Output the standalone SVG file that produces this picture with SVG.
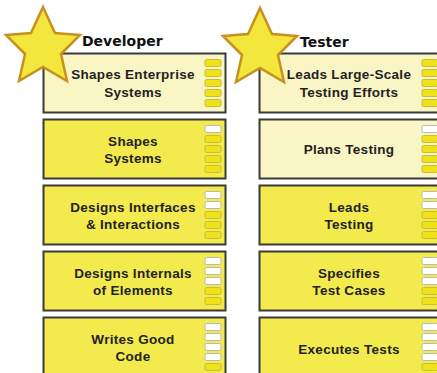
<svg xmlns="http://www.w3.org/2000/svg" width="437" height="373" viewBox="0 0 437 373">
<defs>
<style>
.box{stroke:#3a3a3a;stroke-width:2}
.hi{fill:#f3eb4e}
.lo{fill:#faf5c4}
.t{font-family:"Liberation Sans",Arial,sans-serif;font-weight:bold;font-size:13.5px;fill:#222;text-anchor:middle;letter-spacing:0.3px}
.h{font-family:"DejaVu Sans",sans-serif;font-weight:bold;font-size:14px;fill:#111}
.by{fill:#f0e21a;stroke:#c9bd3a;stroke-width:1}
.bw{fill:#ffffff;stroke:#b8b8b8;stroke-width:1}
.star{fill:#f3e63c;stroke:#c8901e;stroke-width:2.5;stroke-linejoin:miter}
</style>
<g id="bars0"><rect class="by" x="0" y="0" width="16" height="7" rx="1.5"/><rect class="by" x="0" y="10" width="16" height="7" rx="1.5"/><rect class="by" x="0" y="20" width="16" height="7" rx="1.5"/><rect class="by" x="0" y="30" width="16" height="7" rx="1.5"/><rect class="by" x="0" y="40" width="16" height="7" rx="1.5"/></g>
<g id="bars1"><rect class="bw" x="0" y="0" width="16" height="7" rx="1.5"/><rect class="by" x="0" y="10" width="16" height="7" rx="1.5"/><rect class="by" x="0" y="20" width="16" height="7" rx="1.5"/><rect class="by" x="0" y="30" width="16" height="7" rx="1.5"/><rect class="by" x="0" y="40" width="16" height="7" rx="1.5"/></g>
<g id="bars2"><rect class="bw" x="0" y="0" width="16" height="7" rx="1.5"/><rect class="bw" x="0" y="10" width="16" height="7" rx="1.5"/><rect class="by" x="0" y="20" width="16" height="7" rx="1.5"/><rect class="by" x="0" y="30" width="16" height="7" rx="1.5"/><rect class="by" x="0" y="40" width="16" height="7" rx="1.5"/></g>
<g id="bars3"><rect class="bw" x="0" y="0" width="16" height="7" rx="1.5"/><rect class="bw" x="0" y="10" width="16" height="7" rx="1.5"/><rect class="bw" x="0" y="20" width="16" height="7" rx="1.5"/><rect class="by" x="0" y="30" width="16" height="7" rx="1.5"/><rect class="by" x="0" y="40" width="16" height="7" rx="1.5"/></g>
<g id="bars4"><rect class="bw" x="0" y="0" width="16" height="7" rx="1.5"/><rect class="bw" x="0" y="10" width="16" height="7" rx="1.5"/><rect class="bw" x="0" y="20" width="16" height="7" rx="1.5"/><rect class="bw" x="0" y="30" width="16" height="7" rx="1.5"/><rect class="by" x="0" y="40" width="16" height="7" rx="1.5"/></g>
<polygon id="starshape" class="star" points="43,7 55,33 80,35 61,54 67,81 43,67 19,81 25,54 6,35 31,33"/>
</defs>
<rect width="437" height="373" fill="#ffffff"/>
<g id="connectors"></g>

<g id="dev1"><rect class="box lo" x="43.5" y="53.5" width="182" height="59"/><use href="#bars0" x="205" y="59.5"/><text class="t" x="133" y="79">Shapes Enterprise</text><text class="t" x="133" y="96.5">Systems</text></g>
<g id="dev2"><rect class="box hi" x="43.5" y="119.5" width="182" height="59"/><use href="#bars1" x="205" y="125.5"/><text class="t" x="133" y="145.5">Shapes</text><text class="t" x="133" y="163">Systems</text></g>
<g id="dev3"><rect class="box hi" x="43.5" y="185.5" width="182" height="59"/><use href="#bars2" x="205" y="191.5"/><text class="t" x="133" y="211.5">Designs Interfaces</text><text class="t" x="133" y="229">&amp; Interactions</text></g>
<g id="dev4"><rect class="box hi" x="43.5" y="251.5" width="182" height="59"/><use href="#bars3" x="205" y="257.5"/><text class="t" x="133" y="277.5">Designs Internals</text><text class="t" x="133" y="295">of Elements</text></g>
<g id="dev5"><rect class="box hi" x="43.5" y="317.5" width="182" height="62"/><use href="#bars4" x="205" y="323.5"/><text class="t" x="133" y="343.5">Writes Good</text><text class="t" x="133" y="361">Code</text></g>

<g id="tst1"><rect class="box lo" x="259.5" y="53.5" width="182" height="59"/><use href="#bars0" x="422" y="59.5"/><text class="t" x="349" y="79">Leads Large-Scale</text><text class="t" x="349" y="96.5">Testing Efforts</text></g>
<g id="tst2"><rect class="box lo" x="259.5" y="119.5" width="182" height="59"/><use href="#bars1" x="422" y="125.5"/><text class="t" x="349" y="154">Plans Testing</text></g>
<g id="tst3"><rect class="box hi" x="259.5" y="185.5" width="182" height="59"/><use href="#bars2" x="422" y="191.5"/><text class="t" x="349" y="211.5">Leads</text><text class="t" x="349" y="229">Testing</text></g>
<g id="tst4"><rect class="box hi" x="259.5" y="251.5" width="182" height="59"/><use href="#bars3" x="422" y="257.5"/><text class="t" x="349" y="277.5">Specifies</text><text class="t" x="349" y="295">Test Cases</text></g>
<g id="tst5"><rect class="box hi" x="259.5" y="317.5" width="182" height="62"/><use href="#bars4" x="422" y="323.5"/><text class="t" x="349" y="354">Executes Tests</text></g>

<g id="devStar"><use href="#starshape"/></g>
<g id="tstStar"><use href="#starshape" transform="translate(217,1)"/></g>
<g id="devHeader"><text class="h" x="82" y="46">Developer</text></g>
<g id="tstHeader"><text class="h" x="300" y="47">Tester</text></g>
</svg>
